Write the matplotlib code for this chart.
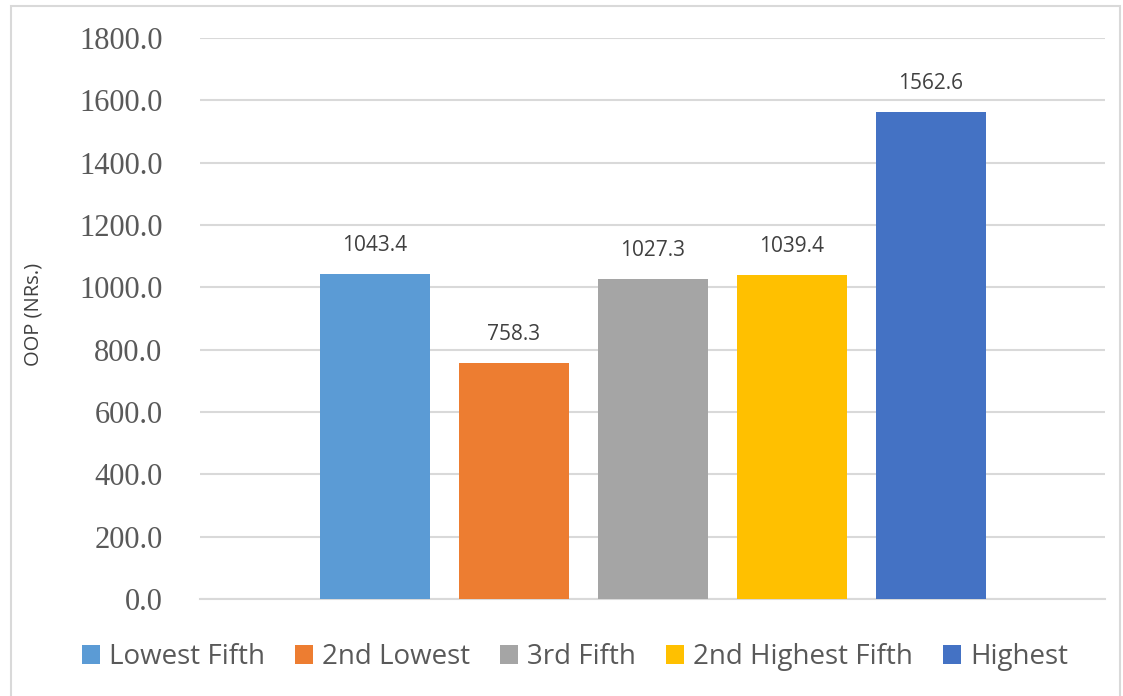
import matplotlib
matplotlib.use("Agg")
import matplotlib.pyplot as plt
from matplotlib.patches import Rectangle, Patch

categories = ["Lowest Fifth", "2nd Lowest", "3rd Fifth", "2nd Highest Fifth", "Highest"]
values = [1043.4, 758.3, 1027.3, 1039.4, 1562.6]
colors = ["#5B9BD5", "#ED7D31", "#A5A5A5", "#FFC000", "#4472C4"]
yticks = [0, 200, 400, 600, 800, 1000, 1200, 1400, 1600, 1800]

W, H = 1123, 696
fig = plt.figure(figsize=(W / 100, H / 100), dpi=100)
fig.patch.set_facecolor("white")

# outer chart frame
fig.patches.append(Rectangle((11 / W, -0.05), (1120 - 11) / W, (H - 6) / H + 0.05,
                             transform=fig.transFigure, fill=False,
                             edgecolor="#d9d9d9", linewidth=1.5))

ax = fig.add_axes([200 / W, (H - 599) / H, (1105 - 200) / W, (599 - 38) / H])
ax.set_facecolor("white")

positions = list(range(len(values)))
bars = ax.bar(positions, values, width=110 / 139, color=colors, zorder=3)

for x, v in zip(positions, values):
    ax.annotate(f"{v:.1f}", (x, v), xytext=(0, 13), textcoords="offset points",
                ha="center", va="bottom", fontsize=15, family="Open Sans",
                color="#404040")

ax.set_ylim(0, 1800)
ax.set_xlim(2 - 452.5 / 139, 2 + 452.5 / 139)
ax.set_yticks(yticks)
ax.set_yticklabels([f"{t:.1f}" for t in yticks], family="Liberation Serif",
                   fontsize=22, color="#595959")
ax.set_xticks([])
ax.tick_params(axis="y", length=0, pad=27)
ax.grid(axis="y", color="#d9d9d9", linewidth=1.5, zorder=0)
for s in ["left", "right", "top"]:
    ax.spines[s].set_visible(False)
ax.spines["bottom"].set_color("#d9d9d9")
ax.spines["bottom"].set_linewidth(1.5)

fig.text(33 / W, (H - 314) / H, "OOP (NRs.)", rotation=90, ha="center", va="center",
         fontsize=14.5, family="Open Sans", color="#404040")

handles = [Patch(facecolor=c, edgecolor="none") for c in colors]
fig.legend(handles, categories, loc="center", bbox_to_anchor=(575 / W, (H - 657) / H),
           ncol=5, frameon=False, prop={"family": "Open Sans", "size": 20},
           labelcolor="#595959", handlelength=0.65, handleheight=0.65,
           handletextpad=0.32, columnspacing=1.08)

fig.savefig("out.png", dpi=100, facecolor="white")
